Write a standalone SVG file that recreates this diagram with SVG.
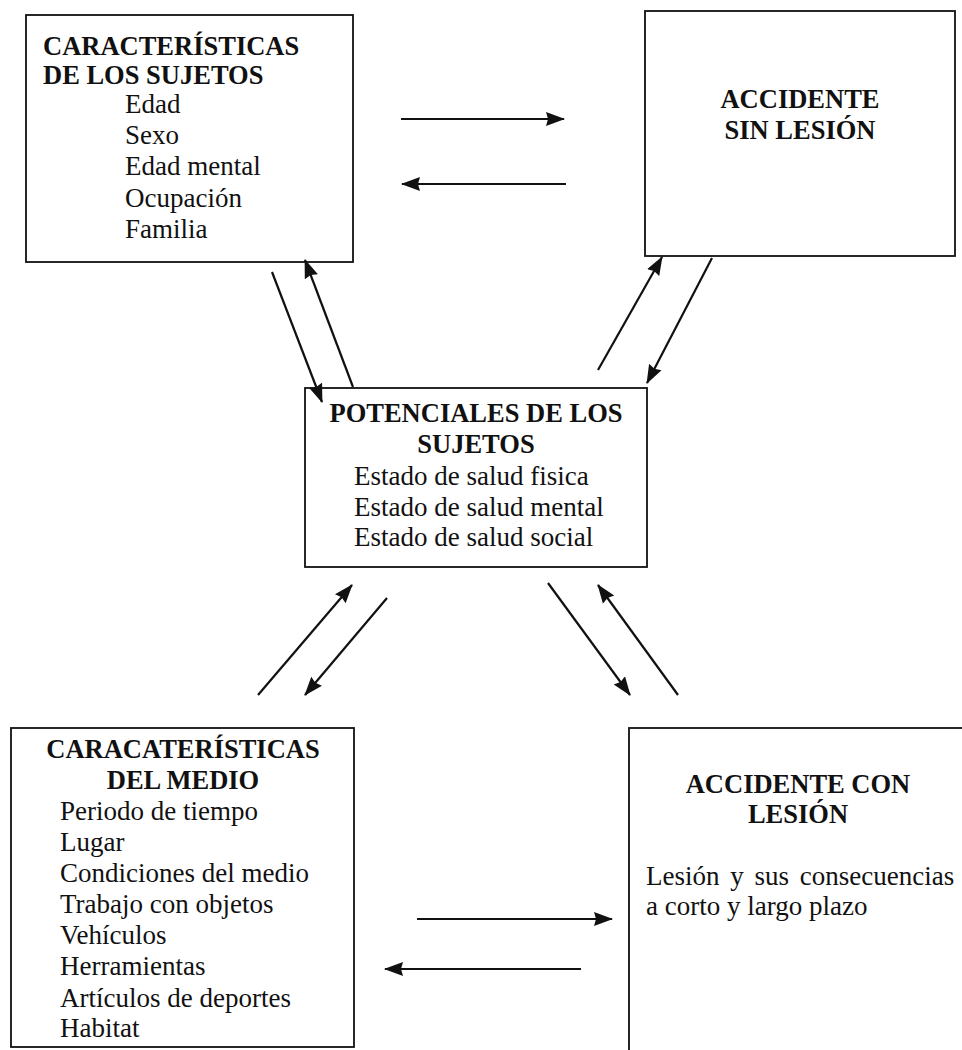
<svg xmlns="http://www.w3.org/2000/svg" width="962" height="1050" viewBox="0 0 962 1050">
<style>
.box{fill:#fff;stroke:#111;stroke-width:1.8}
.t{font-family:"Liberation Serif","Times New Roman",serif;font-size:27px;fill:#111}
.b{font-family:"Liberation Serif","Times New Roman",serif;font-size:26.5px;font-weight:bold;fill:#111}
.c{text-anchor:middle}
.arr{stroke:#111;stroke-width:2.2;fill:none;marker-end:url(#ah)}
</style>
<defs>
<marker id="ah" markerUnits="userSpaceOnUse" markerWidth="19" markerHeight="16" refX="18" refY="8" orient="auto">
<path d="M0,1 L19,8 L0,15 L2,8 z" fill="#111"/>
</marker>
</defs>
<rect width="962" height="1050" fill="#fff"/>
<g id="caracteristicas-sujetos">
<rect class="box" x="26" y="15" width="327" height="247"/>
<text class="b" x="43" y="55">CARACTERÍSTICAS</text>
<text class="b" x="43" y="84">DE LOS SUJETOS</text>
<text class="t" x="125" y="113">Edad</text>
<text class="t" x="125" y="144">Sexo</text>
<text class="t" x="125" y="175">Edad mental</text>
<text class="t" x="125" y="207">Ocupación</text>
<text class="t" x="125" y="238">Familia</text>
</g>
<g id="accidente-sin-lesion">
<rect class="box" x="645" y="11" width="310" height="245"/>
<text class="b c" x="800" y="108">ACCIDENTE</text>
<text class="b c" x="800" y="139">SIN LESIÓN</text>
</g>
<g id="potenciales">
<rect class="box" x="305" y="388" width="342" height="179"/>
<text class="b c" x="476" y="422">POTENCIALES DE LOS</text>
<text class="b c" x="476" y="453">SUJETOS</text>
<text class="t" x="354" y="485">Estado de salud fisica</text>
<text class="t" x="354" y="516">Estado de salud mental</text>
<text class="t" x="354" y="546">Estado de salud social</text>
</g>
<g id="caracteristicas-medio">
<rect class="box" x="11" y="728" width="343" height="319"/>
<text class="b c" x="183" y="758">CARACATERÍSTICAS</text>
<text class="b c" x="183" y="789">DEL MEDIO</text>
<text class="t" x="60" y="820">Periodo de tiempo</text>
<text class="t" x="60" y="851">Lugar</text>
<text class="t" x="60" y="882">Condiciones del medio</text>
<text class="t" x="60" y="913">Trabajo con objetos</text>
<text class="t" x="60" y="944">Vehículos</text>
<text class="t" x="60" y="975">Herramientas</text>
<text class="t" x="60" y="1007">Artículos de deportes</text>
<text class="t" x="60" y="1037">Habitat</text>
</g>
<g id="accidente-con-lesion">
<rect class="box" x="629" y="728" width="360" height="340"/>
<text class="b c" x="798" y="793">ACCIDENTE CON</text>
<text class="b c" x="798" y="823">LESIÓN</text>
<text class="t" x="646" y="885" word-spacing="4">Lesión y sus consecuencias</text>
<text class="t" x="646" y="915">a corto y largo plazo</text>
</g>
<g id="connectors">
<line class="arr" x1="401" y1="119" x2="564" y2="119"/>
<line class="arr" x1="566" y1="184" x2="402" y2="184"/>
<line class="arr" x1="417" y1="919" x2="612" y2="919"/>
<line class="arr" x1="581" y1="969" x2="385" y2="969"/>
<line class="arr" x1="272" y1="272" x2="322" y2="402"/>
<line class="arr" x1="353" y1="387" x2="305" y2="260"/>
<line class="arr" x1="598" y1="370" x2="662" y2="257"/>
<line class="arr" x1="712" y1="258" x2="647" y2="383"/>
<line class="arr" x1="258" y1="695" x2="352" y2="585"/>
<line class="arr" x1="387" y1="598" x2="305" y2="695"/>
<line class="arr" x1="548" y1="583" x2="630" y2="695"/>
<line class="arr" x1="678" y1="695" x2="598" y2="585"/>
</g>
</svg>
